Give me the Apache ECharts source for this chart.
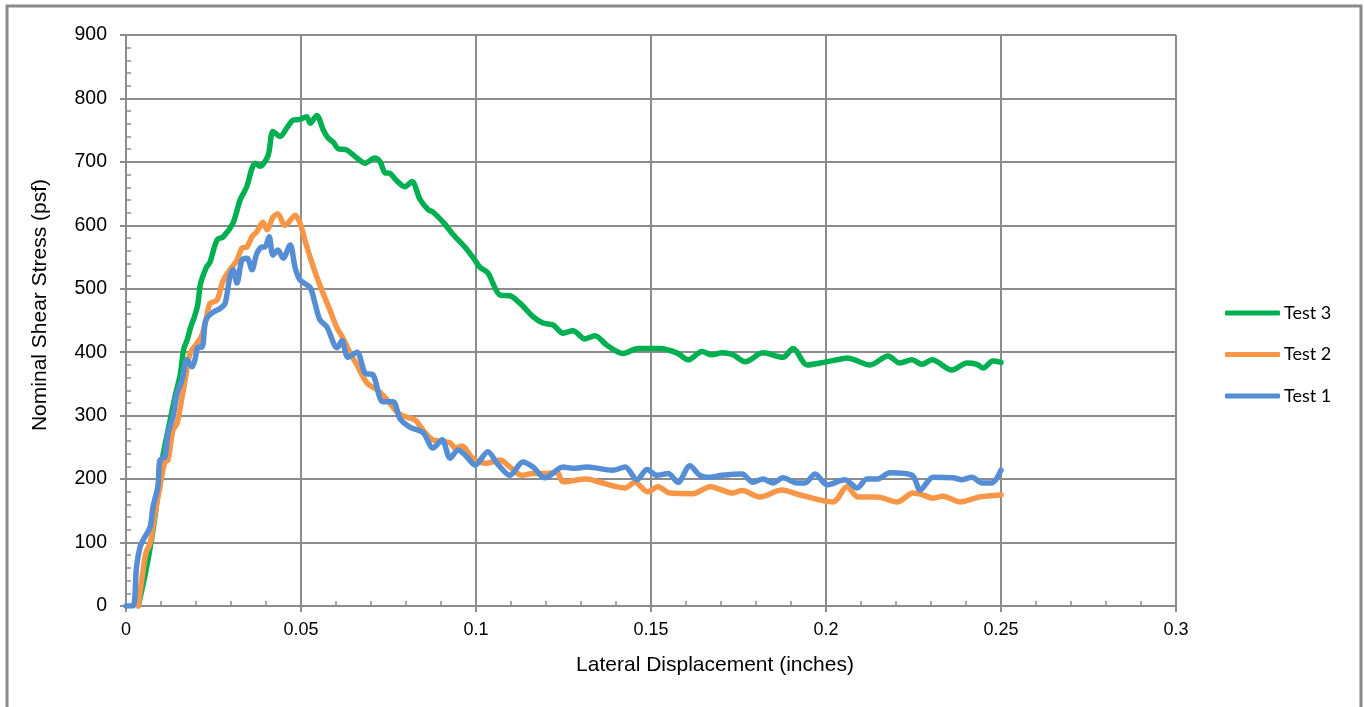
<!DOCTYPE html>
<html>
<head>
<meta charset="utf-8">
<title>Nominal Shear Stress vs Lateral Displacement</title>
<script src="https://cdn.jsdelivr.net/npm/echarts@6/dist/echarts.min.js"></script>
<style>
  html, body { margin: 0; padding: 0; background: #ffffff; }
  #chart { width: 1364px; height: 707px; }
</style>
</head>
<body>
<div id="chart"></div>
<script>
// Lateral displacement (in) / nominal shear stress (psf) pairs for each test
const test3 = [[0.0035,0],[0.0055,50],[0.007,95],[0.0085,150],[0.0097,210],[0.011,250],[0.0125,290],[0.014,330],[0.0155,365],[0.0165,405],[0.0175,420],[0.0185,440],[0.0195,455],[0.0205,475],[0.0213,508],[0.023,534],[0.024,542],[0.026,577],[0.0278,582],[0.0306,604],[0.0326,640],[0.0345,661],[0.036,690],[0.0369,698],[0.0383,693],[0.0406,710],[0.042,748],[0.044,740],[0.046,754],[0.0478,766],[0.0497,767],[0.0516,771],[0.0526,761],[0.0545,773],[0.0564,750],[0.0577,738],[0.0592,731],[0.0606,721],[0.063,719],[0.066,706],[0.0683,698],[0.0711,706],[0.0726,700],[0.074,683],[0.0754,682],[0.0774,670],[0.0797,661],[0.0817,669],[0.084,641],[0.0863,625],[0.0877,621],[0.0906,605],[0.0934,586],[0.0974,562],[0.0997,545],[0.1011,534],[0.1034,525],[0.1069,490],[0.1097,489],[0.1126,477],[0.1163,456],[0.1191,446],[0.122,443],[0.1249,430],[0.1277,434],[0.1311,421],[0.134,426],[0.1374,411],[0.142,398],[0.1463,406],[0.1526,406],[0.1574,399],[0.1606,388],[0.1646,401],[0.1674,396],[0.1703,399],[0.1734,396],[0.1769,385],[0.182,399],[0.1877,392],[0.1906,406],[0.1946,380],[0.1983,383],[0.204,389],[0.206,391],[0.2126,380],[0.2177,394],[0.2211,383],[0.2246,388],[0.2274,381],[0.2303,388],[0.236,372],[0.2403,383],[0.2431,381],[0.2449,375],[0.2477,386],[0.25,384]];

const test2 = [[0.0035,0],[0.0049,57],[0.0057,84],[0.0069,99],[0.0083,146],[0.0097,188],[0.0111,227],[0.012,230],[0.0134,277],[0.0146,288],[0.016,329],[0.0169,356],[0.0183,398],[0.0203,414],[0.0217,427],[0.023,455],[0.024,477],[0.026,482],[0.0277,512],[0.0297,530],[0.0317,545],[0.0331,564],[0.0346,566],[0.036,582],[0.0374,590],[0.0391,605],[0.0403,593],[0.042,613],[0.0434,618],[0.0454,600],[0.0474,611],[0.0483,616],[0.0497,604],[0.0511,577],[0.0526,550],[0.0545,519],[0.0563,493],[0.0583,466],[0.0603,438],[0.062,422],[0.064,399],[0.066,380],[0.0689,351],[0.0717,341],[0.0746,325],[0.0774,306],[0.0791,300],[0.0826,293],[0.0849,277],[0.0877,262],[0.0926,257],[0.094,249],[0.096,252],[0.0991,233],[0.1031,225],[0.1069,230],[0.1097,219],[0.1131,206],[0.1163,209],[0.1203,209],[0.1231,211],[0.1249,196],[0.1317,200],[0.1354,195],[0.1426,186],[0.1454,195],[0.1491,180],[0.152,188],[0.1554,178],[0.162,177],[0.1669,188],[0.1734,178],[0.176,182],[0.1811,172],[0.1874,183],[0.1926,175],[0.202,164],[0.206,188],[0.2091,172],[0.2146,172],[0.2203,164],[0.2249,178],[0.2277,175],[0.2306,170],[0.2334,173],[0.2383,164],[0.244,172],[0.25,175]];

const test1 = [[0,0],[0.002,0],[0.003,61],[0.004,93],[0.0049,104],[0.0069,125],[0.0077,156],[0.0091,188],[0.0097,230],[0.0111,235],[0.012,272],[0.0134,298],[0.0146,335],[0.016,356],[0.0174,388],[0.0189,377],[0.0197,388],[0.0206,408],[0.0217,408],[0.0226,446],[0.0234,456],[0.0249,463],[0.0269,469],[0.0283,477],[0.0297,519],[0.0306,530],[0.0317,509],[0.0331,545],[0.0346,548],[0.036,530],[0.0374,556],[0.0389,566],[0.0397,566],[0.0409,582],[0.042,553],[0.0434,561],[0.0449,548],[0.0469,569],[0.0483,534],[0.0497,514],[0.0526,502],[0.054,477],[0.0554,451],[0.0574,440],[0.0603,407],[0.0617,418],[0.0634,392],[0.066,400],[0.0683,367],[0.0706,364],[0.0734,322],[0.0763,322],[0.0783,295],[0.0811,282],[0.0849,273],[0.0877,249],[0.0903,262],[0.0926,233],[0.0949,246],[0.0974,235],[0.0997,222],[0.1034,243],[0.106,225],[0.1097,206],[0.1134,227],[0.1163,219],[0.1197,202],[0.1249,219],[0.1277,217],[0.1317,219],[0.1391,214],[0.1426,219],[0.146,199],[0.1489,215],[0.1517,206],[0.1549,209],[0.1577,195],[0.1611,221],[0.164,206],[0.1669,203],[0.1703,206],[0.176,208],[0.1791,195],[0.182,200],[0.1849,194],[0.1877,202],[0.1917,194],[0.194,194],[0.1969,208],[0.2003,191],[0.2054,199],[0.2089,186],[0.2117,200],[0.2146,200],[0.2183,210],[0.2246,206],[0.2269,183],[0.2306,203],[0.2363,202],[0.2389,199],[0.2417,203],[0.2446,194],[0.2474,194],[0.25,214]];

const seriesNames = ['Test 3', 'Test 2', 'Test 1'];
const seriesColors = ['#00B050', '#F79646', '#558ED5'];
const xAxisTitle = 'Lateral Displacement (inches)';
const yAxisTitle = 'Nominal Shear Stress (psf)';

const gridColor = '#8c8c8c';
const axisFont = 'Liberation Sans, Arial, sans-serif';

const chart = echarts.init(document.getElementById('chart'), null, { renderer: 'canvas' });

function lineSeries(name, data, color) {
  return {
    name: name,
    type: 'line',
    data: data,
    showSymbol: false,
    symbol: 'none',
    smooth: 0.3,
    lineStyle: { color: color, width: 5.5, cap: 'round', join: 'round' },
    itemStyle: { color: color },
    emphasis: { disabled: true },
    animation: false
  };
}

chart.setOption({
  animation: false,
  backgroundColor: '#ffffff',
  grid: { left: 126, right: 188, top: 35, bottom: 101, containLabel: false },
  xAxis: {
    type: 'value',
    min: 0,
    max: 0.3,
    interval: 0.05,
    axisLine: { show: true, onZero: false, lineStyle: { color: gridColor, width: 2 } },
    axisTick: { show: true, inside: false, length: 6, lineStyle: { color: gridColor, width: 2 } },
    minorTick: { show: true, splitNumber: 5, length: -5, lineStyle: { color: gridColor, width: 1.5 } },
    splitLine: { show: true, lineStyle: { color: gridColor, width: 2 } },
    axisLabel: { color: '#000', fontFamily: axisFont, fontSize: 18, margin: 15 }
  },
  yAxis: {
    type: 'value',
    min: 0,
    max: 900,
    interval: 100,
    axisLine: { show: true, lineStyle: { color: gridColor, width: 2 } },
    axisTick: { show: true, inside: false, length: 6, lineStyle: { color: gridColor, width: 2 } },
    minorTick: { show: true, splitNumber: 5, length: -5, lineStyle: { color: gridColor, width: 1.5 } },
    splitLine: { show: true, lineStyle: { color: gridColor, width: 2 } },
    axisLabel: { color: '#000', fontFamily: axisFont, fontSize: 19.5, margin: 19 }
  },
  legend: {
    orient: 'vertical',
    left: 1225,
    top: 304,
    padding: 0,
    icon: 'roundRect',
    itemWidth: 55,
    itemHeight: 5,
    itemGap: 23.5,
    data: seriesNames,
    selectedMode: false,
    textStyle: { color: '#000', fontFamily: 'Lato, "Open Sans", sans-serif', fontSize: 18, lineHeight: 16, padding: [0, 0, 0, -1] }
  },
  series: [
    lineSeries(seriesNames[0], test3, seriesColors[0]),
    lineSeries(seriesNames[1], test2, seriesColors[1]),
    lineSeries(seriesNames[2], test1, seriesColors[2])
  ],
  graphic: [
    {
      type: 'rect',
      shape: { x: 7, y: 6, width: 1354, height: 720 },
      style: { fill: 'none', stroke: '#8a8a8a', lineWidth: 3 },
      silent: true,
      z: 0
    },
    {
      type: 'text',
      x: 715,
      y: 665,
      style: { text: xAxisTitle, fill: '#000', font: '21px ' + axisFont, textAlign: 'center', textVerticalAlign: 'middle' },
      silent: true
    },
    {
      type: 'text',
      x: 40,
      y: 305,
      rotation: Math.PI / 2,
      style: { text: yAxisTitle, fill: '#000', font: '21px ' + axisFont, textAlign: 'center', textVerticalAlign: 'middle' },
      silent: true
    }
  ]
});
</script>
</body>
</html>
